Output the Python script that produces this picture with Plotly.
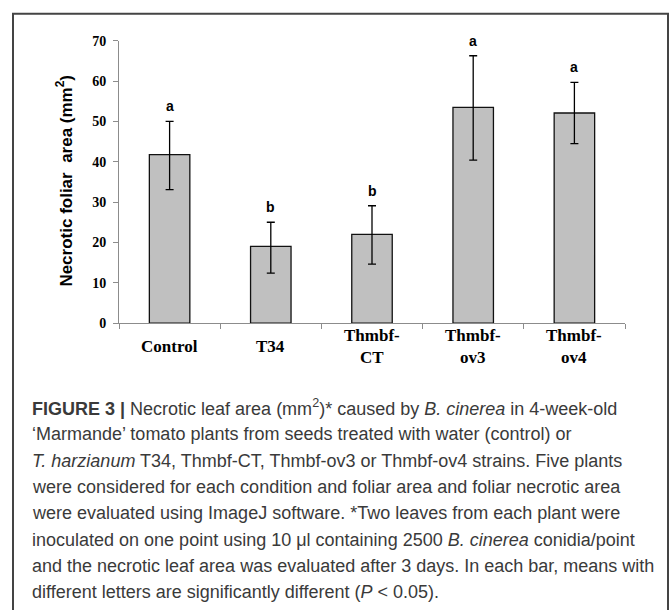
import plotly.graph_objects as go

W, H = 672, 610

categories = ["Control", "T34", "Thmbf-CT", "Thmbf-ov3", "Thmbf-ov4"]
tick_labels = ["Control", "T34", "Thmbf-<br>CT", "Thmbf-<br>ov3", "Thmbf-<br>ov4"]
means = [41.8, 19.0, 22.0, 53.5, 52.1]
err_plus = [8.2, 6.0, 7.1, 12.8, 7.6]
err_minus = [8.7, 6.6, 7.4, 13.1, 7.6]
letters = ["a", "b", "b", "a", "a"]

y_title = "Necrotic foliar  area (mm<sup>2</sup>)"
caption_lines = [
    "<b>FIGURE 3 |</b> Necrotic leaf area (mm<sup>2</sup>)* caused by <i>B. cinerea</i> in 4-week-old",
    "\u2018Marmande\u2019 tomato plants from seeds treated with water (control) or",
    "<i>T. harzianum</i> T34, Thmbf-CT, Thmbf-ov3 or Thmbf-ov4 strains. Five plants",
    "were considered for each condition and foliar area and foliar necrotic area",
    "were evaluated using ImageJ software. *Two leaves from each plant were",
    "inoculated on one point using 10 \u03bcl containing 2500 <i>B. cinerea</i> conidia/point",
    "and the necrotic leaf area was evaluated after 3 days. In each bar, means with",
    "different letters are significantly different (<i>P</i> &lt; 0.05).",
]


def px(x):
    return x / W


def py(y):
    return 1 - y / H


fig = go.Figure()
fig.add_trace(go.Bar(
    x=categories, y=means,
    marker=dict(color="#c0c0c0", line=dict(color="#111111", width=1.3)),
    error_y=dict(type="data", symmetric=False, array=err_plus, arrayminus=err_minus,
                 color="#000000", thickness=1.3, width=4),
    width=0.4,
))

annotations = []
for c, m, e, l in zip(categories, means, err_plus, letters):
    annotations.append(dict(x=c, y=m + e, xref="x", yref="y", text="<b>%s</b>" % l,
                            showarrow=False, yanchor="middle", yshift=15,
                            font=dict(family="Liberation Sans, Arial", size=14, color="#000")))
for c, t in zip(categories, tick_labels):
    annotations.append(dict(x=c, y=py(348), xref="x", yref="paper", text="<b>%s</b>" % t,
                            showarrow=False, yanchor="middle", align="center",
                            font=dict(family="Liberation Serif, Times New Roman", size=17, color="#000")))
annotations.append(dict(x=px(64), y=py(178), xref="paper", yref="paper", text="<b>%s</b>" % y_title,
                        showarrow=False, textangle=-90, xanchor="center", yanchor="middle",
                        font=dict(family="Liberation Sans, Arial", size=17, color="#000")))
for i, line in enumerate(caption_lines):
    annotations.append(dict(x=px(30), y=py(411 + 27 * i), xref="paper", yref="paper", text=line,
                            showarrow=False, xanchor="left", yanchor="middle", align="left",
                            font=dict(family="Liberation Sans, Arial", size=18, color="#3a3a3a")))

fig.update_layout(
    width=W, height=H,
    margin=dict(l=0, r=0, t=0, b=0),
    paper_bgcolor="white", plot_bgcolor="white",
    showlegend=False,
    bargap=0.6,
    xaxis=dict(domain=[px(119), px(625)], showline=True, linecolor="#8c8c8c", linewidth=1,
               ticks="outside", tickson="boundaries", ticklen=5, tickcolor="#8c8c8c",
               showticklabels=False, showgrid=False, zeroline=False, fixedrange=True),
    yaxis=dict(domain=[py(324), py(34.7)], range=[0, 70], dtick=10, showline=True,
               linecolor="#8c8c8c", linewidth=1, ticks="outside", ticklen=5, tickcolor="#8c8c8c",
               showgrid=False, zeroline=False, ticklabelstandoff=4, fixedrange=True,
               tickfont=dict(family="Liberation Serif, Times New Roman", size=14, color="#000", weight="bold")),
    annotations=annotations,
    shapes=[
        dict(type="rect", xref="paper", yref="paper", layer="above",
             x0=px(13), x1=px(668), y0=-0.05, y1=py(7),
             line=dict(color="#444444", width=2), fillcolor="rgba(0,0,0,0)"),
    ],
)

fig.write_html("out.html", config={"displayModeBar": False, "staticPlot": True},
               post_script="document.body.style.margin='0';document.body.style.padding='0';"
                           "document.body.style.overflow='hidden';")
